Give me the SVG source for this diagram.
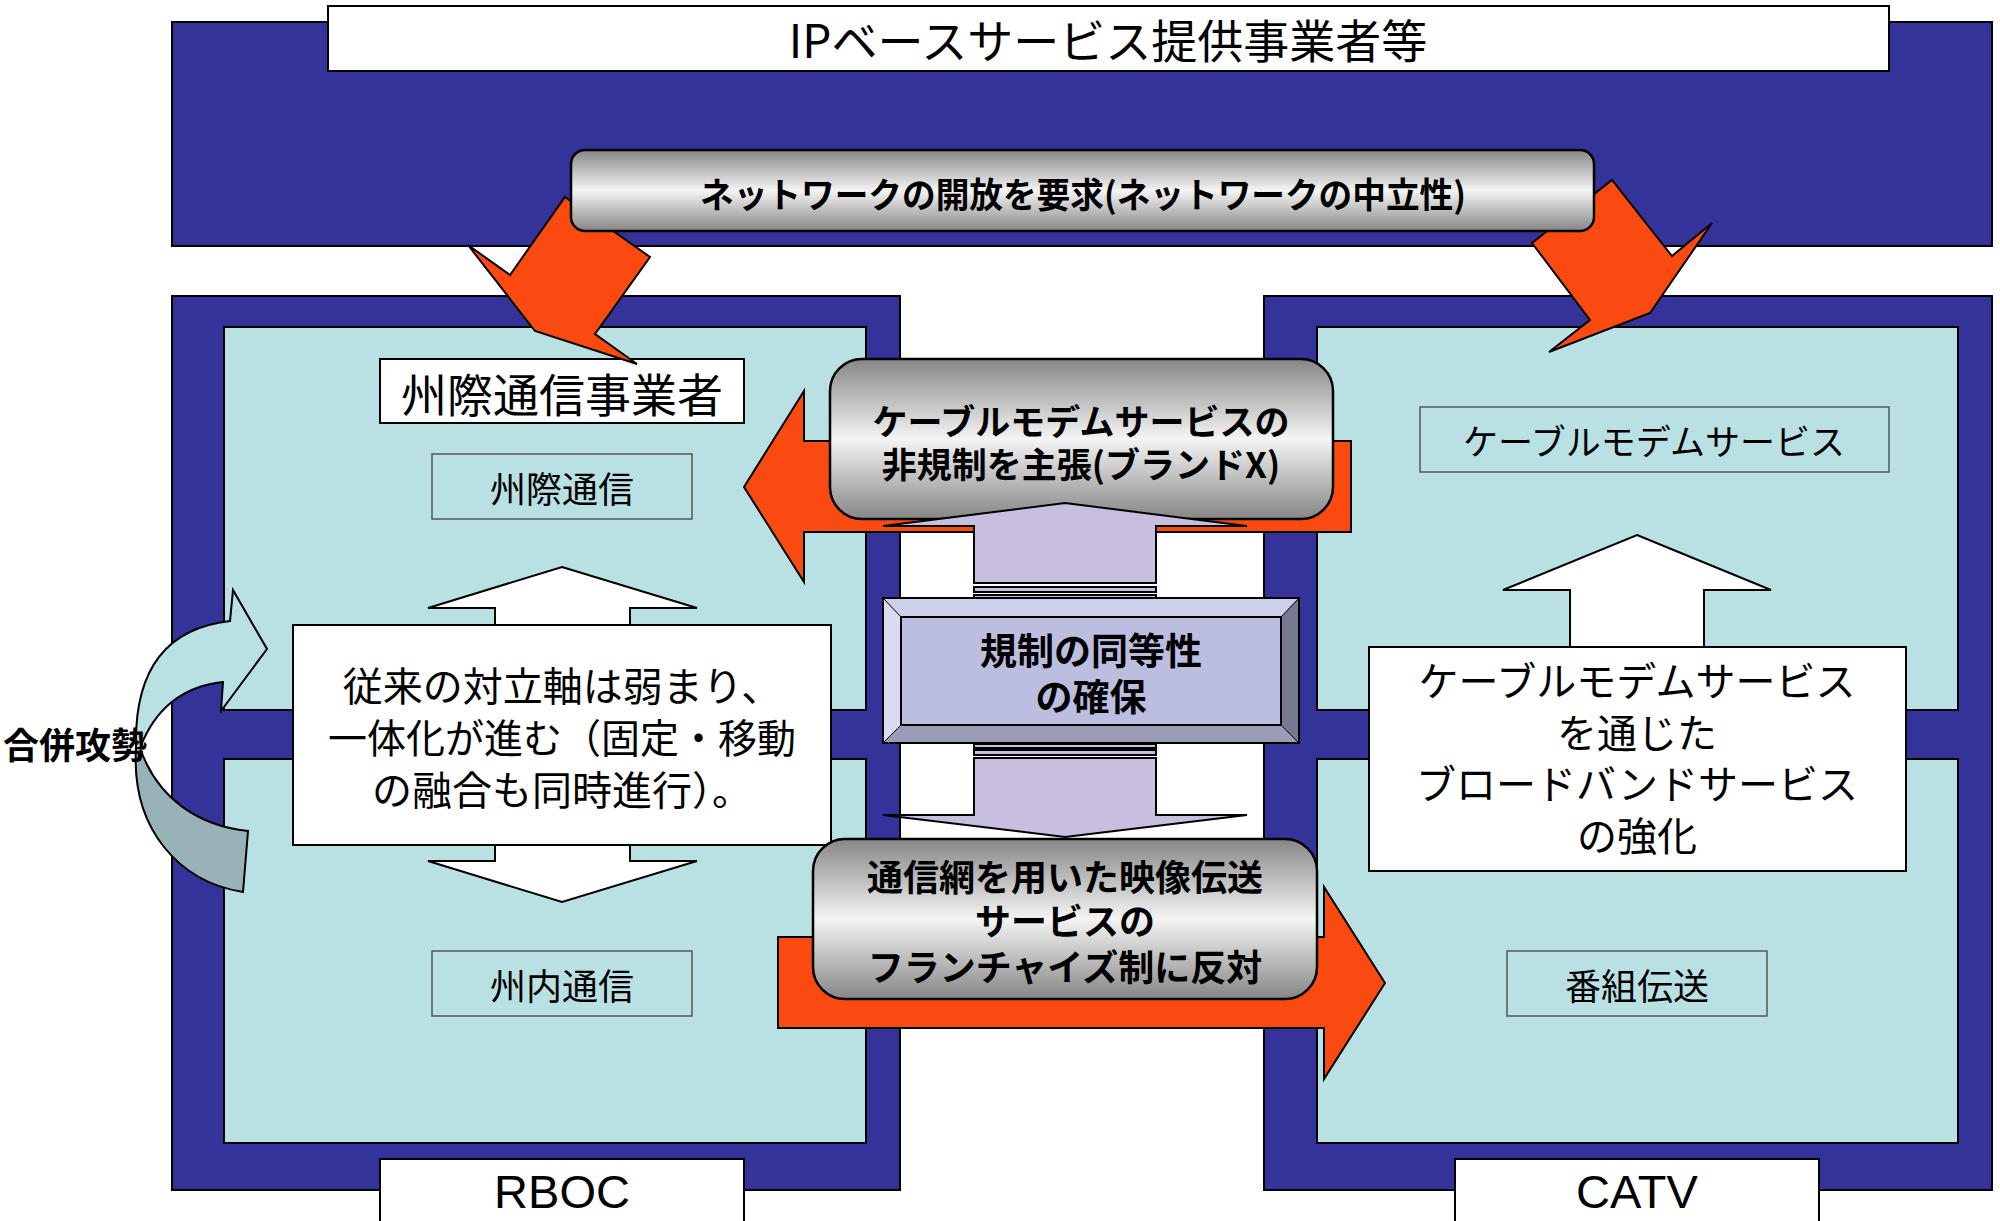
<svg xmlns="http://www.w3.org/2000/svg" width="2000" height="1221" viewBox="0 0 2000 1221">
<defs>
<linearGradient id="pill" x1="0" y1="0" x2="0" y2="1">
<stop offset="0" stop-color="#868686"/>
<stop offset="0.5" stop-color="#f4f4f4"/>
<stop offset="1" stop-color="#868686"/>
</linearGradient>
<style>
.blue{fill:#333399;stroke:#000;stroke-width:2}
.cyan{fill:#B9E0E3;stroke:#000;stroke-width:2}
.wbox{fill:#fff;stroke:#000;stroke-width:2}
.sbox{fill:none;stroke:#555;stroke-width:1.5}
.orange{fill:#FB4A10;stroke:#000;stroke-width:2;stroke-linejoin:miter}
.pill{fill:url(#pill);stroke:#000;stroke-width:2.5}
.lav{fill:#C8BEE0;stroke:#000;stroke-width:2}
.jp{font-family:'Noto Sans CJK JP','Noto Sans',sans-serif;fill:#000;text-anchor:middle}
.b{font-weight:bold}
.lat{font-family:'Liberation Sans',Arial,sans-serif;fill:#000;text-anchor:middle}
</style>
</defs>
<rect width="2000" height="1221" fill="#fff"/>

<g id="ip-providers">
<rect class="blue" x="172" y="22" width="1820" height="224"/>
<rect class="wbox" x="328" y="6" width="1561" height="65"/>
<text class="jp" x="1108" y="58" font-size="46">IPベースサービス提供事業者等</text>
</g>

<g id="rboc-panel">
<rect class="blue" x="172" y="296" width="728" height="894"/>
<rect class="cyan" x="224" y="327" width="642" height="383"/>
<rect class="cyan" x="224" y="759" width="642" height="384"/>
<rect class="wbox" x="380" y="1159" width="364" height="70"/>
<text class="lat" x="562" y="1208" font-size="47">RBOC</text>
</g>

<g id="catv-panel">
<rect class="blue" x="1264" y="296" width="728" height="894"/>
<rect class="cyan" x="1317" y="327" width="641" height="383"/>
<rect class="cyan" x="1317" y="759" width="641" height="384"/>
<rect class="wbox" x="1455" y="1159" width="364" height="70"/>
<text class="lat" x="1637" y="1208" font-size="47">CATV</text>
</g>

<g id="interstate-carrier">
<rect class="wbox" x="380" y="359" width="364" height="64"/>
<text class="jp" x="562" y="412" font-size="46">州際通信事業者</text>
</g>
<g id="interstate">
<rect class="sbox" x="432" y="454" width="260" height="65"/>
<text class="jp" x="562" y="503" font-size="36">州際通信</text>
</g>
<g id="intrastate">
<rect class="sbox" x="432" y="951" width="260" height="65"/>
<text class="jp" x="562" y="1000" font-size="36">州内通信</text>
</g>
<g id="cable-modem">
<rect class="sbox" x="1420" y="407" width="469" height="65"/>
<text class="jp" x="1654" y="455" font-size="35">ケーブルモデムサービス</text>
</g>
<g id="program-transmission">
<rect class="sbox" x="1507" y="951" width="260" height="65"/>
<text class="jp" x="1637" y="1000" font-size="36">番組伝送</text>
</g>

<g id="convergence">
<polygon class="wbox" points="562,567 697,608 630,608 630,861 697,861 562,902 428,861 495,861 495,608 428,608"/>
<rect class="wbox" x="293" y="625" width="538" height="220"/>
<text class="jp" x="562" y="701" font-size="40">従来の対立軸は弱まり、</text>
<text class="jp" x="562" y="753" font-size="40" textLength="468" lengthAdjust="spacingAndGlyphs">一体化が進む（固定・移動</text>
<text class="jp" x="562" y="805" font-size="40">の融合も同時進行）。</text>
</g>

<g id="broadband">
<polygon class="wbox" points="1637,535 1771,590 1704,590 1704,660 1570,660 1570,590 1503,590"/>
<rect class="wbox" x="1369" y="647" width="537" height="224"/>
<text class="jp" x="1637" y="696" font-size="40">ケーブルモデムサービス</text>
<text class="jp" x="1637" y="748" font-size="40">を通じた</text>
<text class="jp" x="1637" y="799" font-size="40">ブロードバンドサービス</text>
<text class="jp" x="1637" y="851" font-size="40">の強化</text>
</g>

<g id="merger">
<path d="M136,748 C134,668 168,628 230,621 L233,590 L267,649 L221,711 L223,682 C186,686 156,706 140,748 Z" fill="#B9E0E3" stroke="#000" stroke-width="2"/>
<path d="M136,748 C131,830 180,882 243,892 L248,831 C200,826 158,800 140,748 Z" fill="#97B3B7" stroke="#000" stroke-width="2"/>
<text class="jp b" x="75" y="759" font-size="36">合併攻勢</text>
</g>

<g id="connectors">
<polygon class="orange" points="565,197 650,257 595,334 637,364 535,331 468,245 510,275"/>
<polygon class="orange" points="1612,180 1672,256 1712,223 1650,313 1549,352 1590,320 1532,243"/>
<polygon class="orange" points="744,487 804,391 804,441 1351,441 1351,532 804,532 804,582"/>
<polygon class="orange" points="778,937 1324,937 1324,887 1385,983 1324,1079 1324,1028 778,1028"/>
</g>

<g id="net-neutrality">
<rect class="pill" x="571" y="150" width="1023" height="81" rx="14"/>
<text class="jp b" x="1083" y="208" font-size="35" textLength="766" lengthAdjust="spacingAndGlyphs">ネットワークの開放を要求(ネットワークの中立性)</text>
</g>

<g id="brand-x">
<rect class="pill" x="830" y="359" width="503" height="160" rx="32"/>
<text class="jp b" x="1081" y="435" font-size="35">ケーブルモデムサービスの</text>
<text class="jp b" x="1081" y="478" font-size="35">非規制を主張(ブランドX)</text>
</g>

<g id="franchise">
<rect class="pill" x="813" y="839" width="504" height="160" rx="32"/>
<text class="jp b" x="1065" y="891" font-size="36">通信網を用いた映像伝送</text>
<text class="jp b" x="1065" y="935" font-size="36">サービスの</text>
<text class="jp b" x="1065" y="981" font-size="36">フランチャイズ制に反対</text>
</g>

<g id="parity-arrows">
<polygon class="lav" points="1065,503 1247,526 1156,526 1156,583 974,583 974,526 883,526"/>
<rect class="lav" x="974" y="587" width="182" height="5" stroke-width="1.5"/>
<rect class="lav" x="974" y="595" width="182" height="3" stroke-width="1.5"/>
<rect class="lav" x="974" y="744" width="182" height="4" stroke-width="1.5"/>
<rect class="lav" x="974" y="750" width="182" height="5" stroke-width="1.5"/>
<polygon class="lav" points="974,758 1156,758 1156,815 1247,815 1065,837 883,815 974,815"/>
</g>

<g id="regulatory-parity">
<polygon points="883,598 1299,598 1281,617 901,617" fill="#CDD0EA"/>
<polygon points="883,598 901,617 901,725 883,743" fill="#D9DCF0"/>
<polygon points="1299,598 1299,743 1281,725 1281,617" fill="#767A90"/>
<polygon points="883,743 901,725 1281,725 1299,743" fill="#9A9CB8"/>
<rect x="901" y="617" width="380" height="108" fill="#BCBEE0" stroke="#000" stroke-width="2"/>
<line x1="883" y1="598" x2="901" y2="617" stroke="#000" stroke-width="1"/>
<line x1="1299" y1="598" x2="1281" y2="617" stroke="#000" stroke-width="1"/>
<line x1="883" y1="743" x2="901" y2="725" stroke="#000" stroke-width="1"/>
<line x1="1299" y1="743" x2="1281" y2="725" stroke="#000" stroke-width="1"/>
<rect x="883" y="598" width="416" height="145" fill="none" stroke="#000" stroke-width="2"/>
<text class="jp b" x="1091" y="665" font-size="37">規制の同等性</text>
<text class="jp b" x="1091" y="711" font-size="37">の確保</text>
</g>
</svg>
